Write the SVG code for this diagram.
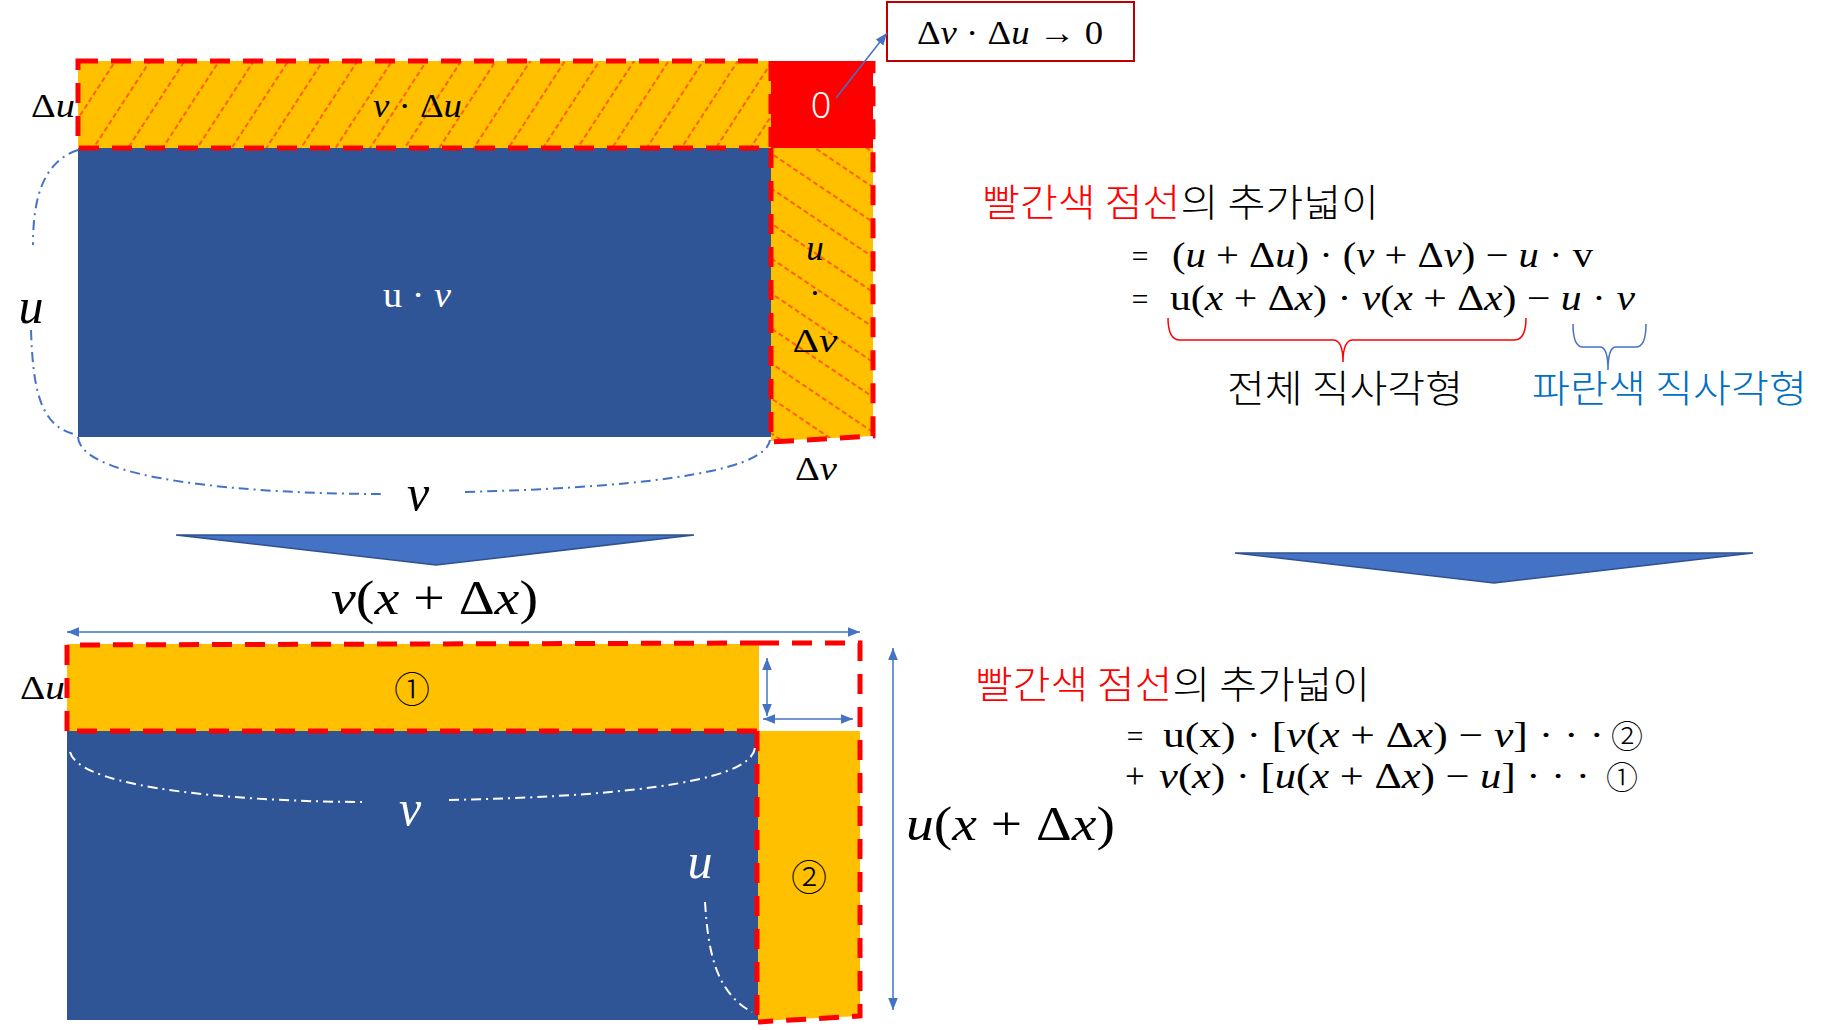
<svg xmlns="http://www.w3.org/2000/svg" width="1833" height="1030" viewBox="0 0 1833 1030">
<style>
.m{font-family:"Liberation Serif","DejaVu Serif",serif;fill:#000}
.i{font-style:italic}
.k{font-family:"Noto Sans CJK KR","Noto Sans",sans-serif;font-weight:300}
.w{fill:#fff}
.org{fill:#FFC000}
.blu{fill:#2F5597}
.thick{fill:none;stroke:#FF0000;stroke-width:5;stroke-dasharray:20 13}
.dd{fill:none;stroke:#4472C4;stroke-width:2;stroke-dasharray:10 5 2 5}
.ddw{fill:none;stroke:#fff;stroke-width:2;stroke-dasharray:10 5 2 5}
.ar{fill:none;stroke:#4472C4;stroke-width:1.5}
.tri{fill:#4472C4;stroke:#2F528F;stroke-width:1.5}
.c{font-family:"Noto Sans CJK KR",sans-serif;font-weight:300}
</style>
<defs>
<pattern id="hb" patternUnits="userSpaceOnUse" width="29" height="8" patternTransform="rotate(33)"><line x1="14" y1="0" x2="14" y2="5" stroke="#FF0000" stroke-width="1"/></pattern>
<pattern id="hs" patternUnits="userSpaceOnUse" width="29" height="8" patternTransform="rotate(-56)"><line x1="14" y1="0" x2="14" y2="5" stroke="#FF0000" stroke-width="1"/></pattern>
<marker id="ah" viewBox="0 0 10 10" refX="10" refY="5" markerWidth="12" markerHeight="12" markerUnits="userSpaceOnUse" orient="auto-start-reverse"><path d="M0,1 L10,5 L0,9 z" fill="#4472C4"/></marker>
</defs>

<g id="top-diagram">
  <g id="top-blue"><rect class="blu" x="78" y="148" width="693" height="289"/>
    <text class="m" x="383" y="307" font-size="35" textLength="68" lengthAdjust="spacingAndGlyphs" fill="#fff" style="fill:#fff">u · <tspan class="i">v</tspan></text></g>
  <g id="top-band"><rect class="org" x="78" y="61" width="693" height="87"/><rect fill="url(#hb)" x="78" y="61" width="693" height="87"/>
    <text class="m" x="373" y="117" font-size="34" textLength="89" lengthAdjust="spacingAndGlyphs"><tspan class="i">v</tspan> · Δ<tspan class="i">u</tspan></text></g>
  <g id="top-corner"><rect fill="#FF0000" x="771" y="61" width="102" height="87"/>
    <text x="821" y="118" font-family="Noto Sans, sans-serif" font-weight="300" font-size="36" fill="#fff" text-anchor="middle">0</text></g>
  <g id="top-strip"><path class="org" d="M771,148 L873,148 L873,436 L771,441 z"/><path fill="url(#hs)" d="M771,148 L873,148 L873,436 L771,441 z"/>
    <text class="m i" x="815" y="260" font-size="35" text-anchor="middle">u</text>
    <text class="m" x="815" y="304" font-size="34" text-anchor="middle">·</text>
    <text class="m" x="815" y="352" font-size="34" text-anchor="middle" textLength="45" lengthAdjust="spacingAndGlyphs">Δ<tspan class="i">v</tspan></text></g>
  <g id="top-outline">
    <rect class="thick" x="78" y="61" width="693" height="87"/>
    <path class="thick" d="M771,148 L771,442 L873,436 L873,61"/>
  </g>
  <g id="top-labels">
    <text class="m" x="31" y="117" font-size="34" textLength="44" lengthAdjust="spacingAndGlyphs">Δ<tspan class="i">u</tspan></text>
    <text class="m i" x="31" y="323" font-size="50" text-anchor="middle">u</text>
    <text class="m i" x="418" y="510" font-size="50" text-anchor="middle">v</text>
    <text class="m" x="816" y="480" font-size="34" text-anchor="middle" textLength="42" lengthAdjust="spacingAndGlyphs">Δ<tspan class="i">v</tspan></text>
  </g>
</g>

<g id="callout">
  <rect x="887" y="2" width="247" height="59" fill="#fff" stroke="#C00000" stroke-width="2"/>
  <text class="m" x="917" y="44" font-size="34" textLength="186" lengthAdjust="spacingAndGlyphs">Δ<tspan class="i">v</tspan> · Δ<tspan class="i">u</tspan> → 0</text>
</g>

<g id="top-text">
  <text class="k" x="982" y="216" font-size="38" textLength="397" lengthAdjust="spacingAndGlyphs"><tspan fill="#FF0000">빨간색 점선</tspan><tspan fill="#000">의 추가넓이</tspan></text>
  <text class="k" x="1132" y="267" font-size="30">=</text>
  <text class="m" x="1172" y="267" font-size="36" textLength="421" lengthAdjust="spacingAndGlyphs">(<tspan class="i">u</tspan> + Δ<tspan class="i">u</tspan>) · (<tspan class="i">v</tspan> + Δ<tspan class="i">v</tspan>) − <tspan class="i">u</tspan> · v</text>
  <text class="k" x="1132" y="310" font-size="30">=</text>
  <text class="m" x="1170" y="310" font-size="36" textLength="465" lengthAdjust="spacingAndGlyphs">u(<tspan class="i">x</tspan> + Δ<tspan class="i">x</tspan>) · <tspan class="i">v</tspan>(<tspan class="i">x</tspan> + Δ<tspan class="i">x</tspan>) − <tspan class="i">u</tspan> · <tspan class="i">v</tspan></text>
  <text class="k" x="1227" y="402" font-size="38" textLength="236" lengthAdjust="spacingAndGlyphs">전체 직사각형</text>
  <text class="k" x="1532" y="402" font-size="38" textLength="275" lengthAdjust="spacingAndGlyphs" fill="#0070C0">파란색 직사각형</text>
</g>

<g id="arrows-down">
  <path class="tri" d="M176,535 L694,535 L436,565 z"/>
  <path class="tri" d="M1235,553 L1753,553 L1494,583 z"/>
</g>

<g id="bottom-diagram">
  <g id="bot-blue"><rect class="blu" x="67" y="731" width="691" height="289"/>
    <text class="m i" x="410" y="825" font-size="50" text-anchor="middle" style="fill:#fff">v</text>
    <text class="m i" x="700" y="878" font-size="50" text-anchor="middle" style="fill:#fff">u</text></g>
  <g id="bot-band"><rect class="org" x="67" y="644" width="692" height="87"/>
    <text class="c" x="412" y="703" font-size="36" text-anchor="middle">①</text></g>
  <g id="bot-corner"><rect fill="#fff" x="759" y="644" width="101" height="87"/></g>
  <g id="bot-strip"><path class="org" d="M758,731 L860,731 L860,1016 L758,1021 z"/>
    <text class="c" x="809" y="891" font-size="36" text-anchor="middle">②</text></g>
  <g id="bot-outline">
    <path class="thick" d="M67,731 L67,645 L759,643 M757,731 L67,731"/>
    <path class="thick" d="M759,643 L860,643 L860,1016 L758,1022"/>
    <path class="thick" d="M757,731 L757,1028"/>
  </g>
  <g id="bot-labels">
    <text class="m" x="20" y="699" font-size="34" textLength="45" lengthAdjust="spacingAndGlyphs">Δ<tspan class="i">u</tspan></text>
    <text class="m" x="331" y="614" font-size="48" textLength="207" lengthAdjust="spacingAndGlyphs"><tspan class="i">v</tspan>(<tspan class="i">x</tspan> + Δ<tspan class="i">x</tspan>)</text>
    <text class="m" x="906" y="840" font-size="48" textLength="209" lengthAdjust="spacingAndGlyphs"><tspan class="i">u</tspan>(<tspan class="i">x</tspan> + Δ<tspan class="i">x</tspan>)</text>
  </g>
</g>

<g id="bottom-text">
  <text class="k" x="975" y="698" font-size="38" textLength="395" lengthAdjust="spacingAndGlyphs"><tspan fill="#FF0000">빨간색 점선</tspan><tspan fill="#000">의 추가넓이</tspan></text>
  <text class="k" x="1127" y="747" font-size="30">=</text>
  <text class="m" x="1163" y="747" font-size="35" textLength="441" lengthAdjust="spacingAndGlyphs">u(x) · [<tspan class="i">v</tspan>(<tspan class="i">x</tspan> + Δ<tspan class="i">x</tspan>) − <tspan class="i">v</tspan>] · · ·</text>
  <text class="c" x="1627" y="748" font-size="32" text-anchor="middle">②</text>
  <text class="m" x="1125" y="788" font-size="35">+</text>
  <text class="m" x="1159" y="788" font-size="35" textLength="431" lengthAdjust="spacingAndGlyphs"><tspan class="i">v</tspan>(<tspan class="i">x</tspan>) · [<tspan class="i">u</tspan>(<tspan class="i">x</tspan> + Δ<tspan class="i">x</tspan>) − <tspan class="i">u</tspan>] · · ·</text>
  <text class="c" x="1622" y="789" font-size="32" text-anchor="middle">①</text>
</g>

<g id="connectors">
  <line class="ar" x1="836" y1="98" x2="887" y2="33" marker-end="url(#ah)"/>
  <path class="dd" d="M78,150 C42,162 33,200 33,245"/>
  <path class="dd" d="M31,330 C33,390 40,428 78,435"/>
  <path class="dd" d="M78,437 C80,480 250,494 382,494"/>
  <path class="dd" d="M465,492 C620,488 765,475 770,440"/>
  <path class="ddw" d="M70,752 C80,790 250,802 367,802"/>
  <path class="ddw" d="M449,800 C600,797 750,785 755,748"/>
  <path class="ddw" d="M705,902 C708,950 715,992 752,1012"/>
  <line class="ar" x1="67" y1="632" x2="860" y2="632" marker-start="url(#ah)" marker-end="url(#ah)"/>
  <line class="ar" x1="893" y1="648" x2="893" y2="1010" marker-start="url(#ah)" marker-end="url(#ah)"/>
  <line class="ar" x1="767" y1="658" x2="767" y2="716" marker-start="url(#ah)" marker-end="url(#ah)"/>
  <line class="ar" x1="763" y1="719" x2="853" y2="719" marker-start="url(#ah)" marker-end="url(#ah)"/>
  <path fill="none" stroke="#FF0000" stroke-width="1.5" d="M1168,318 Q1168,340 1180,340 L1333,340 Q1343,340 1343,362 Q1343,340 1353,340 L1514,340 Q1526,340 1526,318"/>
  <path fill="none" stroke="#4472C4" stroke-width="1.5" d="M1573,324 Q1573,347 1583,347 L1600,347 Q1608,347 1608,370 Q1608,347 1616,347 L1636,347 Q1646,347 1646,324"/>
</g>
</svg>
